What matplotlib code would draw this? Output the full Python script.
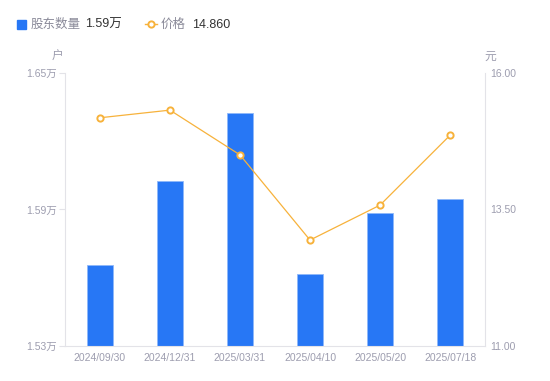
import matplotlib
matplotlib.use('Agg')
import matplotlib.pyplot as plt
from matplotlib.lines import Line2D
import numpy as np

plt.rcParams['font.family'] = ['Liberation Sans', 'Noto Sans CJK SC', 'DejaVu Sans']

# Data
dates = ['2024/09/30', '2024/12/31', '2025/03/31', '2025/04/10', '2025/05/20', '2025/07/18']
holders = [1.5656, 1.6025, 1.6324, 1.5616, 1.5885, 1.5946]  # 万户
prices = [15.18, 15.32, 14.50, 12.94, 13.58, 14.86]

bar_color = '#2777f5'
line_color = '#f7b23b'
axis_color = '#e3e3e8'
label_color = '#9d9daf'

fig = plt.figure(figsize=(5.5, 3.81), dpi=100)
ax = fig.add_axes([0.118, 0.0919, 0.764, 0.7165])
ax2 = ax.twinx()

x = np.arange(len(dates))
ax.bar(x, holders, width=0.36, color=bar_color, edgecolor='#8fb8fa', linewidth=0.6, zorder=2)
ax.set_xlim(-0.5, len(dates) - 0.5)
ax.set_ylim(1.53, 1.65)
ax.set_yticks([1.53, 1.59, 1.65])
ax.set_yticklabels(['1.53万', '1.59万', '1.65万'])
ax.set_xticks(x)
ax.set_xticklabels(dates)

ax2.plot(x, prices, color=line_color, linewidth=0.9, marker='o', markersize=4.5,
         markerfacecolor='white', markeredgecolor=line_color, markeredgewidth=1.4, zorder=3)
ax2.set_ylim(11, 16)
ax2.set_yticks([11, 13.5, 16])
ax2.set_yticklabels(['11.00', '13.50', '16.00'])

for a in (ax, ax2):
    for s in a.spines.values():
        s.set_visible(False)
    a.tick_params(colors=label_color, labelsize=7.5, length=0)

ax.spines['left'].set_visible(True)
ax.spines['left'].set_color(axis_color)
ax.spines['bottom'].set_visible(True)
ax.spines['bottom'].set_color(axis_color)
ax2.spines['right'].set_visible(True)
ax2.spines['right'].set_color(axis_color)
ax.tick_params(axis='y', length=4, color=axis_color, pad=2)
ax2.tick_params(axis='y', length=0, pad=4)
ax.tick_params(axis='x', pad=5)

# Units
fig.text(58 / 550, 1 - 57 / 381, '户', color=label_color, fontsize=8.5, ha='center', va='center')
fig.text(490 / 550, 1 - 57 / 381, '元', color=label_color, fontsize=8.5, ha='center', va='center')

# Legend
ly = 1 - 24 / 381
ty = 1 - 28 / 381
fig.patches.append(plt.Rectangle((17 / 550, 1 - 29 / 381), 9 / 550, 9 / 381,
                                 transform=fig.transFigure, color=bar_color, figure=fig))
fig.text(31 / 550, ty, '股东数量', color='#8a8a99', fontsize=9, va='baseline')
fig.text(85 / 550, ty, '1.59万', color='#333333', fontsize=9, va='baseline')
fig.lines.append(Line2D([145 / 550, 157 / 550], [ly, ly], transform=fig.transFigure,
                        color=line_color, linewidth=1, figure=fig))
fig.lines.append(Line2D([151 / 550], [ly], transform=fig.transFigure, color=line_color,
                        marker='o', markersize=4.5, markerfacecolor='white',
                        markeredgecolor=line_color, markeredgewidth=1.4, figure=fig))
fig.text(161 / 550, ty, '价格', color='#8a8a99', fontsize=9, va='baseline')
fig.text(192 / 550, ty, '14.860', color='#333333', fontsize=9, va='baseline')

fig.savefig('out.png', dpi=100)
